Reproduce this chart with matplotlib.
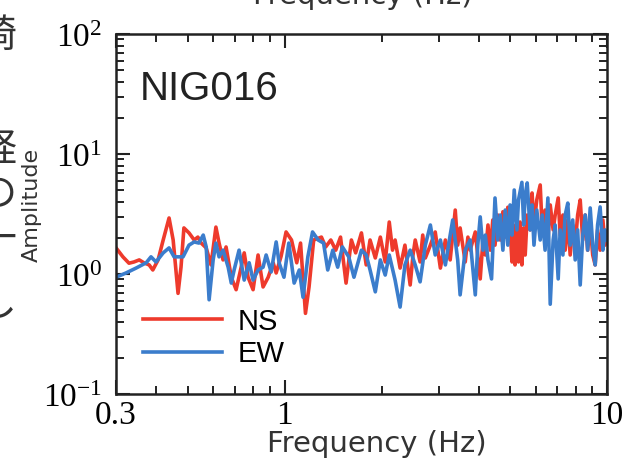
import matplotlib
matplotlib.use('Agg')
import matplotlib.pyplot as plt
from matplotlib.ticker import LogLocator, NullFormatter

# spectra (frequency in Hz, amplitude)
ns_freq = [0.300, 0.315, 0.329, 0.341, 0.354, 0.366, 0.380, 0.390, 0.405, 0.420,
           0.438, 0.451, 0.467, 0.477, 0.487, 0.505, 0.524, 0.538, 0.551, 0.571,
           0.591, 0.612, 0.626, 0.644, 0.658, 0.683, 0.707, 0.733, 0.749, 0.770,
           0.798, 0.827, 0.857, 0.889, 0.921, 0.941, 0.975, 1.01, 1.05, 1.09,
           1.12, 1.16, 1.19, 1.23, 1.30, 1.34, 1.39, 1.44, 1.49, 1.55,
           1.61, 1.66, 1.73, 1.79, 1.84, 1.91, 1.98, 2.05, 2.11, 2.16,
           2.20, 2.28, 2.36, 2.45, 2.50, 2.54, 2.63, 2.68, 2.73, 2.83,
           2.93, 3.04, 3.15, 3.26, 3.38, 3.44, 3.50, 3.63, 3.70, 3.76,
           3.90, 4.04, 4.12, 4.19, 4.27, 4.34, 4.42, 4.49, 4.58, 4.66,
           4.75, 4.83, 4.92, 5.00, 5.07, 5.12, 5.18, 5.25, 5.31, 5.37,
           5.44, 5.51, 5.57, 5.65, 5.77, 5.85, 5.93, 6.05, 6.20, 6.29,
           6.42, 6.55, 6.66, 6.80, 6.90, 7.05, 7.15, 7.29, 7.41, 7.55,
           7.68, 7.82, 7.96, 8.10, 8.25, 8.40, 8.55, 8.70, 8.86, 9.02,
           9.18, 9.34, 9.51, 9.70, 9.85, 10.0]
ns_amp = [1.65, 1.39, 1.23, 1.26, 1.31, 1.24, 1.19, 1.08, 1.31, 1.92,
          2.93, 1.92, 0.69, 1.14, 2.42, 2.20, 1.92, 2.03, 1.81, 1.65,
          1.19, 2.46, 1.81, 1.31, 1.68, 0.94, 0.74, 1.14, 1.50, 0.94,
          0.74, 1.44, 0.78, 0.94, 1.24, 1.02, 1.41, 2.24, 1.92, 1.24,
          1.81, 0.47, 0.78, 1.92, 2.03, 1.68, 1.92, 1.58, 2.03, 0.84,
          1.92, 1.50, 2.20, 1.19, 1.92, 1.36, 2.03, 1.26, 2.71, 1.58,
          1.92, 1.12, 1.74, 0.81, 1.44, 1.92, 1.26, 2.11, 1.36, 1.74,
          2.24, 1.12, 1.92, 1.31, 3.41, 1.74, 2.42, 1.26, 2.03, 1.58,
          2.24, 0.91, 1.92, 1.44, 2.56, 1.58, 2.82, 1.74, 3.10, 1.92,
          3.30, 2.03, 3.60, 2.33, 1.26, 2.56, 1.19, 2.33, 1.26, 2.71,
          1.19, 2.42, 1.44, 3.10, 2.33, 4.73, 2.56, 4.14, 5.52, 2.33,
          3.41, 1.92, 3.76, 2.33, 3.10, 4.30, 2.11, 3.10, 1.58, 2.82,
          1.44, 2.56, 1.74, 3.10, 4.14, 1.92, 3.10, 1.58, 2.56, 1.44,
          1.19, 2.33, 1.58, 2.82, 1.74, 2.11]

ew_freq = [0.300, 0.322, 0.346, 0.372, 0.385, 0.399, 0.420, 0.438, 0.454, 0.484,
           0.505, 0.524, 0.542, 0.559, 0.571, 0.583, 0.600, 0.612, 0.626, 0.644,
           0.668, 0.683, 0.697, 0.722, 0.749, 0.776, 0.798, 0.827, 0.857, 0.876,
           0.908, 0.941, 0.961, 0.995, 1.03, 1.07, 1.11, 1.14, 1.18, 1.22,
           1.27, 1.32, 1.36, 1.41, 1.46, 1.51, 1.58, 1.64, 1.73, 1.79,
           1.84, 1.91, 1.98, 2.05, 2.11, 2.20, 2.28, 2.36, 2.45, 2.54,
           2.63, 2.73, 2.83, 2.93, 3.04, 3.15, 3.26, 3.32, 3.44, 3.50,
           3.63, 3.76, 3.90, 3.97, 4.04, 4.12, 4.19, 4.27, 4.38, 4.49,
           4.58, 4.66, 4.75, 4.83, 4.92, 5.00, 5.07, 5.15, 5.25, 5.31,
           5.44, 5.51, 5.57, 5.65, 5.77, 5.85, 5.93, 6.05, 6.20, 6.29,
           6.42, 6.55, 6.66, 6.80, 6.90, 7.05, 7.15, 7.29, 7.41, 7.55,
           7.68, 7.82, 7.96, 8.10, 8.25, 8.40, 8.55, 8.70, 8.86, 9.02,
           9.18, 9.34, 9.51, 9.70, 9.85, 10.0]
ew_amp = [0.94, 1.02, 1.12, 1.24, 1.39, 1.26, 1.50, 1.65, 1.39, 1.39,
          1.74, 1.85, 1.81, 2.11, 1.68, 0.61, 1.31, 1.81, 1.39, 1.58,
          1.14, 0.84, 1.08, 1.58, 0.89, 1.24, 0.89, 1.08, 1.14, 1.44,
          1.04, 1.85, 1.24, 0.94, 1.81, 0.84, 1.08, 0.64, 1.39, 2.24,
          1.92, 1.81, 1.08, 1.58, 1.14, 1.68, 1.39, 0.94, 1.58, 1.44,
          1.08, 0.71, 1.31, 0.98, 1.44, 0.89, 0.53, 1.19, 1.58, 1.19,
          0.86, 1.74, 2.56, 1.44, 1.92, 1.19, 2.11, 2.82, 1.31, 0.67,
          1.58, 1.92, 0.67, 1.74, 2.99, 1.58, 2.11, 1.31, 0.91, 4.30,
          1.92, 3.10, 1.58, 3.41, 1.74, 3.76, 2.11, 5.01, 2.33, 4.14,
          5.80, 2.56, 4.55, 5.74, 2.33, 3.76, 1.74, 3.41, 1.92, 3.10,
          1.58, 4.30, 0.56, 1.92, 2.56, 0.91, 2.33, 1.44, 3.10, 3.90,
          1.74, 2.82, 1.31, 2.33, 0.81, 2.11, 3.10, 1.58, 3.55, 1.74,
          1.19, 2.56, 3.62, 1.58, 2.33, 1.92]

x_ticks = [0.3, 1, 10]
x_labels = ['0.3', '1', '10']
y_ticks = [0.1, 1, 10, 100]
y_labels = [r'$10^{-1}$', r'$10^{0}$', r'$10^{1}$', r'$10^{2}$']

plt.rcParams['mathtext.fontset'] = 'custom'
plt.rcParams['mathtext.rm'] = 'Liberation Serif'
plt.rcParams['mathtext.it'] = 'Liberation Serif:italic'
plt.rcParams['mathtext.bf'] = 'Liberation Serif:bold'

fig = plt.figure(figsize=(6.24, 4.65), dpi=100)
ax = fig.add_axes([0.186, 0.1527, 0.787, 0.7742])

ax.plot(ns_freq, ns_amp, color='#ee3a2c', lw=2.6, label='NS')
ax.plot(ew_freq, ew_amp, color='#3b7dcc', lw=2.6, label='EW')

ax.set_xscale('log')
ax.set_yscale('log')
ax.set_xlim(0.3, 10)
ax.set_ylim(0.1, 100)

ax.set_xticks(x_ticks)
ax.set_xticklabels(x_labels, fontfamily='Liberation Serif', fontsize=24)
ax.set_yticks(y_ticks)
ax.set_yticklabels(y_labels, fontsize=24)
ax.xaxis.set_minor_locator(LogLocator(base=10, subs=range(2, 10)))
ax.yaxis.set_minor_locator(LogLocator(base=10, subs=range(2, 10)))
ax.xaxis.set_minor_formatter(NullFormatter())
ax.yaxis.set_minor_formatter(NullFormatter())
ax.tick_params(which='both', direction='in', top=True, right=True, color='#222222')
ax.tick_params(which='major', length=10, width=1.5)
ax.tick_params(which='minor', length=5.5, width=1.4)
ax.tick_params(axis='x', pad=5)
ax.tick_params(axis='y', pad=10)
for s in ax.spines.values():
    s.set_linewidth(1.8)
    s.set_color('#222222')

ax.set_xlabel('Frequency (Hz)', fontsize=21, color='#333333')
ax.xaxis.set_label_coords(0.53, -0.1)
ax.set_ylabel('Amplitude', fontsize=16, color='#333333')
ax.yaxis.set_label_coords(-0.152, 0.525)

ax.text(0.049, 0.817, 'NIG016', transform=ax.transAxes, fontfamily='Liberation Sans',
        fontsize=29, color='#222222', va='baseline')

ax.legend(loc='center left', bbox_to_anchor=(0.025, 0.156), frameon=False,
          prop={'family': 'Liberation Sans', 'size': 21}, handlelength=2.7,
          handletextpad=0.55, labelspacing=0.15, borderpad=0)

# pieces of the neighbouring panels cut off by the crop
fig.text(363 / 624, 1 - 4 / 465, 'Frequency (Hz)', ha='center', va='baseline',
         fontsize=21, color='#333333')
for ch, yy in [('崎', 36), ('経', 150), ('の', 195), ('一', 240), ('し', 305)]:
    fig.text(-3 / 624, 1 - yy / 465, ch, ha='center', va='center', fontsize=28,
             family=['Noto Sans CJK JP', 'DejaVu Sans'], color='#333333')

fig.savefig('out.png', dpi=100)
